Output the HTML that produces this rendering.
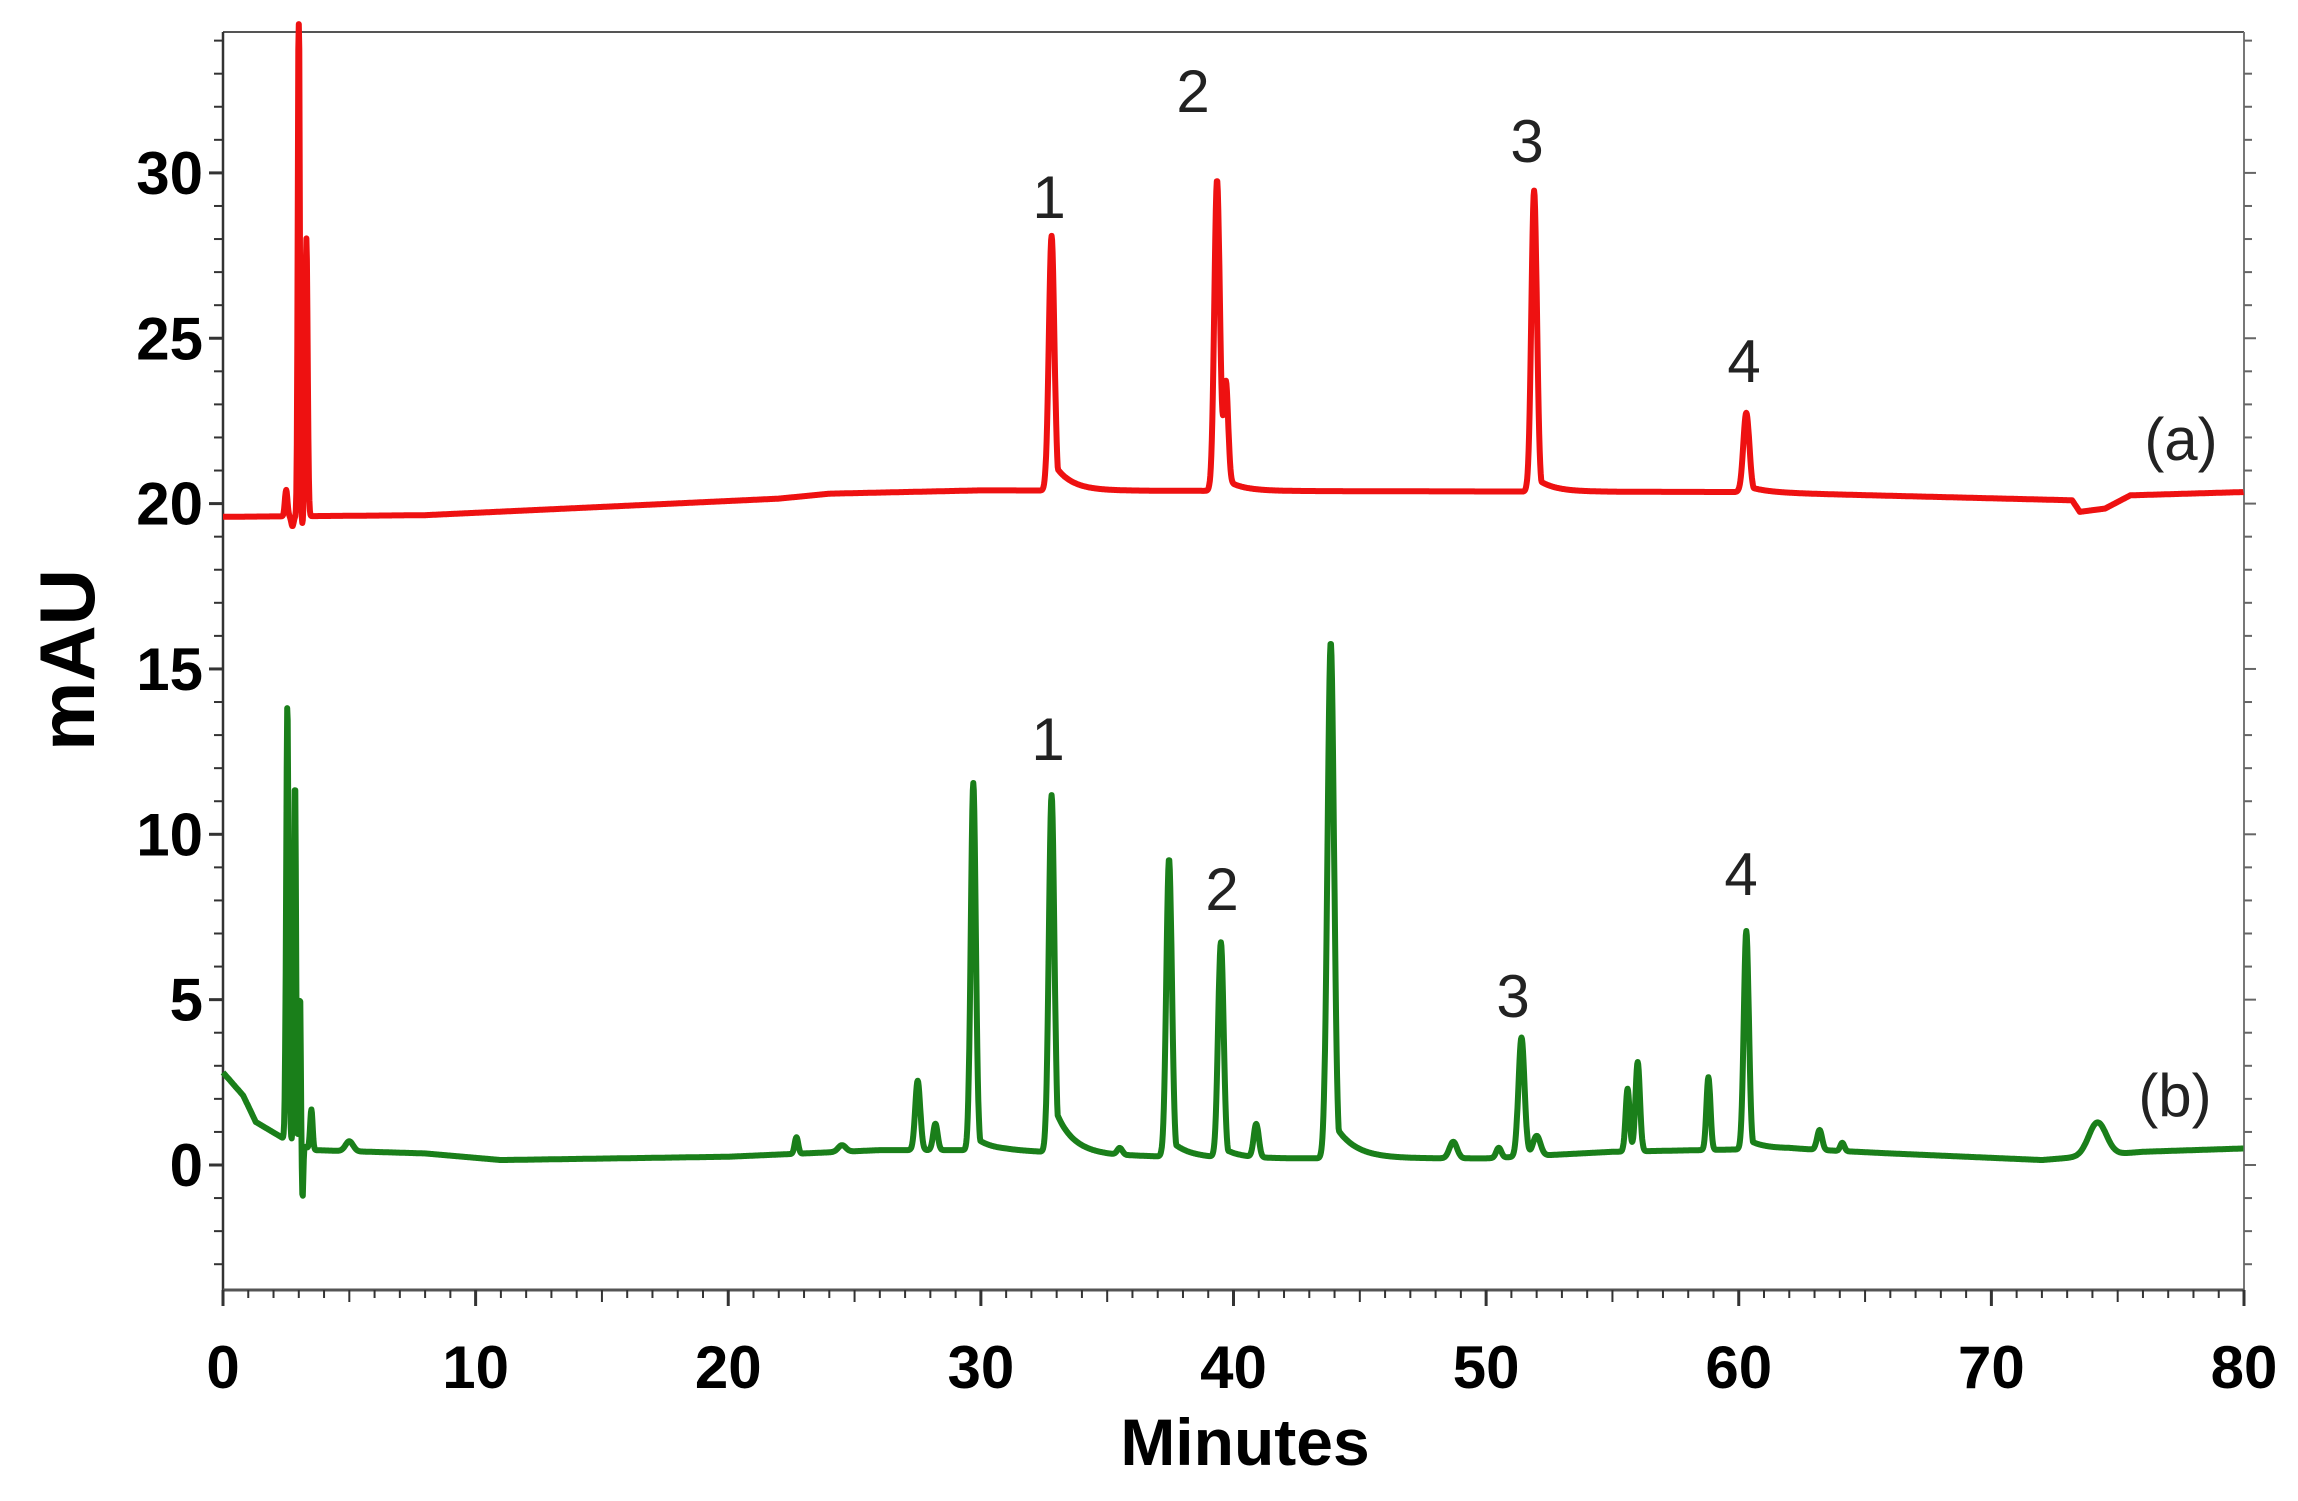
<!DOCTYPE html>
<html><head><meta charset="utf-8"><style>
html,body{margin:0;padding:0;background:#fff;}
svg{display:block;}
</style></head><body>
<svg id="s" width="2298" height="1501" viewBox="0 0 2298 1501" xmlns="http://www.w3.org/2000/svg">
<rect width="2298" height="1501" fill="#fff"/>
<g id="ax"></g>
<path id="pa" fill="none" stroke="#ee1111" stroke-width="6" stroke-linejoin="round"/>
<path id="pb" fill="none" stroke="#1a7f1a" stroke-width="6" stroke-linejoin="round"/>
<g font-family="Liberation Sans, sans-serif" fill="#222" font-size="60" text-anchor="middle">
<text x="1049" y="218">1</text><text x="1193" y="112">2</text><text x="1527" y="162">3</text><text x="1744" y="382">4</text>
<text x="2181" y="460">(a)</text>
<text x="1048" y="760">1</text><text x="1222" y="910">2</text><text x="1513" y="1017">3</text><text x="1741" y="895">4</text>
<text x="2175" y="1116">(b)</text>
</g>
<g font-family="Liberation Sans, sans-serif" font-weight="bold" fill="#000" font-size="60" id="lbl"></g>
<text x="1245" y="1465" font-family="Liberation Sans, sans-serif" font-weight="bold" font-size="66" text-anchor="middle">Minutes</text>
<text transform="translate(94,660) rotate(-90)" font-family="Liberation Sans, sans-serif" font-weight="bold" font-size="78" text-anchor="middle">mAU</text>
</svg>
<script>
var L=223,R=2244,T=32,B=1290;
function X(t){return L+(t)*(R-L)/80;}
function Y(v){return 1165-v*33.07;}
var ns="http://www.w3.org/2000/svg";
var ax=document.getElementById('ax'),lb=document.getElementById('lbl');
function ln(x1,y1,x2,y2,c,w){var e=document.createElementNS(ns,'line');e.setAttribute('x1',x1);e.setAttribute('y1',y1);e.setAttribute('x2',x2);e.setAttribute('y2',y2);e.setAttribute('stroke',c);e.setAttribute('stroke-width',w);ax.appendChild(e);}
function tx(x,y,s,a){var e=document.createElementNS(ns,'text');e.setAttribute('x',x);e.setAttribute('y',y);e.setAttribute('text-anchor',a);e.textContent=s;lb.appendChild(e);}
ln(L,T,R,T,'#555',2);ln(R,T,R,B,'#777',2);ln(L,T,L,B,'#333',2.5);ln(L,B,R,B,'#555',3);
for(var v=-3;v<=34;v++){var y=Y(v);var maj=v%5==0;ln(L-(maj?14:9),y,L,y,'#333',maj?3:2);ln(R,y,R+(maj?12:8),y,'#666',2);
 if(maj&&v>=0)tx(L-20,y+21,String(v),'end');}
for(var t=0;t<=80;t++){var x=X(t);var maj=t%10==0,mid=t%5==0;ln(x,B,x,B+(maj?16:(mid?12:8)),'#333',maj?3:2);
 if(maj)tx(x,B+98,String(t),'middle');}
function g(t,c,h,w){var d=(t-c)/w;return h*Math.exp(-0.5*d*d);}
function pk(t,c,h,w,tail){var v=g(t,c,h,w);if(tail&&t>c){v=Math.max(v,h*tail*Math.exp(-(t-c)/ (w*6)));}return v;}
function interp(t,pts){for(var i=0;i<pts.length-1;i++){if(t<=pts[i+1][0]){var a=pts[i],b=pts[i+1];return a[1]+(b[1]-a[1])*(t-a[0])/(b[0]-a[0]);}}return pts[pts.length-1][1];}
var baseA=[[0,19.6],[8,19.65],[22,20.15],[24,20.3],[30,20.4],[60,20.35],[73.2,20.1],[73.5,19.75],[74.5,19.85],[75.5,20.25],[80,20.35]];
var pa=[[2.5,0.8,0.05],[3.0,16,0.04],[3.3,8.4,0.05],[32.8,7.7,0.11,0.12],[39.35,9.4,0.11,0.06],[39.7,3,0.09],[51.9,9.1,0.11,0.05],[60.3,2.4,0.12,0.08]];
var baseB=[[0,2.8],[0.8,2.1],[1.3,1.3],[2.4,0.8],[3.6,0.45],[8,0.35],[11,0.15],[20,0.25],[26,0.45],[31,0.45],[35,0.3],[40,0.2],[46,0.2],[50,0.2],[55,0.4],[62,0.5],[66,0.35],[72,0.15],[76,0.4],[80,0.5]];
var pb=[[2.55,13.5,0.05],[2.85,11,0.04],[3.05,4.6,0.03],[3.5,1.2,0.05],[5,0.3,0.15],[22.7,0.5,0.07],[24.5,0.2,0.15],[27.5,2.1,0.1],[28.2,0.8,0.09],[29.7,11.1,0.1,0.04],[32.8,10.8,0.11,0.15],[35.5,0.2,0.1],[37.45,9.0,0.11,0.06],[39.5,6.5,0.11,0.05],[40.9,1.0,0.1],[43.85,15.6,0.13,0.08],[48.7,0.5,0.15],[50.5,0.3,0.1],[51.4,3.6,0.12],[52,0.6,0.15],[55.6,1.9,0.08],[56.0,2.7,0.09],[58.8,2.2,0.08],[60.3,6.6,0.1,0.05],[63.2,0.6,0.1],[64.1,0.25,0.08],[74.2,1.0,0.35]];
function build(base,pks,extra){var d='';for(var t=0;t<=80;t+=0.02){var v=interp(t,base);for(var i=0;i<pks.length;i++){var p=pks[i];v+=pk(t,p[0],p[1],p[2],p[3]);}if(extra)v+=extra(t);v=Math.min(v,34.5);d+=(t==0?'M':'L')+X(t).toFixed(1)+','+Y(v).toFixed(1);}return d;}
document.getElementById('pa').setAttribute('d',build(baseA,pa,function(t){return -g(t,2.75,0.3,0.05)-g(t,3.15,0.3,0.04);}));
document.getElementById('pb').setAttribute('d',build(baseB,pb,function(t){return -g(t,2.6,1.3,0.03)-g(t,3.15,1.6,0.03);}));
</script>
</body></html>
